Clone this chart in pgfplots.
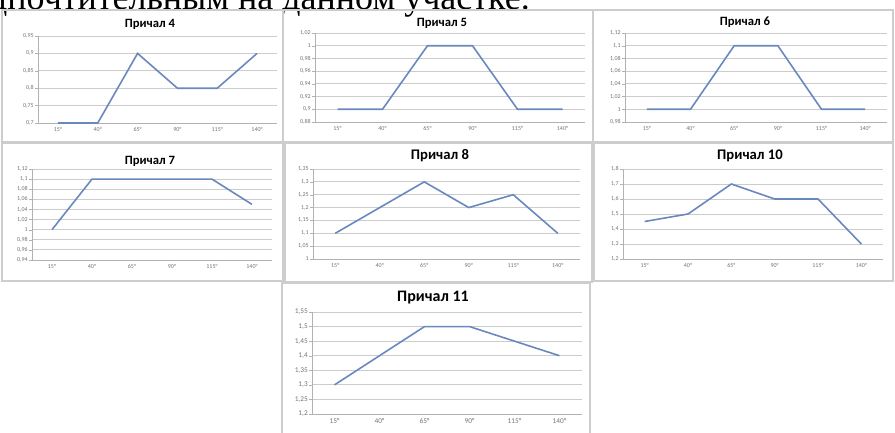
\documentclass[border=0pt]{standalone}
\usepackage{pgfplots}
\pgfplotsset{compat=1.18}
\usepackage{fontspec}
\setmainfont{Carlito}
\newfontfamily\serifru{Liberation Serif}
\definecolor{ln}{RGB}{105,137,190}
\definecolor{bx}{RGB}{205,205,205}
\definecolor{tk}{RGB}{115,115,115}
\pgfplotsset{
  ch/.style={
    scale only axis, anchor=south west,
    xmin=-0.5, xmax=5.5, xtick={0,...,5},
    xticklabels={15°,40°,65°,90°,115°,140°},
    axis x line*=bottom, axis y line*=left,
    axis line style={gray!60,-},
    ymajorgrids, grid style={gray!40, line width=0.6pt},
    tick style={gray!60}, xtick style={draw=none},
    tick align=outside, major tick length=2pt,
    ticklabel style={font=\fontsize{4.5}{5}\selectfont, text=tk, inner sep=1pt},
    /pgf/number format/use comma,
    /pgf/number format/assume math mode=true,
  },
  ser/.style={ln, line width=1.2pt, no marks},
}
\begin{document}
\begin{tikzpicture}
\useasboundingbox (0,0) rectangle ({895*0.75pt},{-432*0.75pt});
% cut-off text line at the top
\begin{scope}
\clip (0,0) rectangle ({895*0.75pt},{-432*0.75pt});
\node[anchor=base east, inner sep=0pt, font=\serifru\fontsize{27}{30}\selectfont] at ({530*0.75pt},{-9*0.75pt}) {предпочтительным на данном участке.};
\end{scope}
% boxes
\draw[bx, line width=0.8pt] ({2*0.75pt},{-10*0.75pt}) rectangle ({283*0.75pt},{-142*0.75pt});
\draw[bx, line width=0.8pt] ({283*0.75pt},{-10*0.75pt}) rectangle ({593*0.75pt},{-142*0.75pt});
\draw[bx, line width=1.6pt] ({593*0.75pt},{-10*0.75pt}) -- ({593*0.75pt},{-142*0.75pt});
\draw[bx, line width=0.8pt] ({593*0.75pt},{-10*0.75pt}) rectangle ({893*0.75pt},{-142*0.75pt});
\draw[bx, line width=0.8pt] ({2*0.75pt},{-143*0.75pt}) rectangle ({283*0.75pt},{-281*0.75pt});
\draw[bx, line width=0.8pt] ({285*0.75pt},{-143*0.75pt}) rectangle ({592*0.75pt},{-282*0.75pt});
\draw[bx, line width=0.8pt] ({594*0.75pt},{-143*0.75pt}) rectangle ({893*0.75pt},{-281*0.75pt});
\draw[bx, line width=0.8pt] ({282*0.75pt},{-283*0.75pt}) rectangle ({590*0.75pt},{-440*0.75pt});

% Причал 4
\node[font=\bfseries\fontsize{9.5}{10}\selectfont, inner sep=1pt] at ({150*0.75pt},{-24*0.75pt}) {Причал 4};
\begin{axis}[ch, at={({38*0.75pt},{-123*0.75pt})}, width={239*0.75pt}, height={87*0.75pt},
  ymin=0.7, ymax=0.95, ytick={0.7,0.75,0.8,0.85,0.9,0.95}]
\addplot[ser] coordinates {(0,0.7) (1,0.7) (2,0.9) (3,0.8) (4,0.8) (5,0.9)};
\end{axis}

% Причал 5
\node[font=\bfseries\fontsize{9.5}{10}\selectfont, inner sep=1pt] at ({442*0.75pt},{-23*0.75pt}) {Причал 5};
\begin{axis}[ch, at={({315*0.75pt},{-122*0.75pt})}, width={270*0.75pt}, height={89*0.75pt},
  ymin=0.88, ymax=1.02, ytick={0.88,0.9,0.92,0.94,0.96,0.98,1,1.02}]
\addplot[ser] coordinates {(0,0.9) (1,0.9) (2,1) (3,1) (4,0.9) (5,0.9)};
\end{axis}

% Причал 6
\node[font=\bfseries\fontsize{9.5}{10}\selectfont, inner sep=1pt] at ({745*0.75pt},{-22*0.75pt}) {Причал 6};
\begin{axis}[ch, at={({625*0.75pt},{-122*0.75pt})}, width={262*0.75pt}, height={89*0.75pt},
  ymin=0.98, ymax=1.12, ytick={0.98,1,1.02,1.04,1.06,1.08,1.1,1.12}]
\addplot[ser] coordinates {(0,1) (1,1) (2,1.1) (3,1.1) (4,1) (5,1)};
\end{axis}

% Причал 7
\node[font=\bfseries\fontsize{9.5}{10}\selectfont] at ({150*0.75pt},{-161*0.75pt}) {Причал 7};
\begin{axis}[ch, at={({32*0.75pt},{-260*0.75pt})}, width={240*0.75pt}, height={91*0.75pt},
  ymin=0.94, ymax=1.12, ytick={0.94,0.96,0.98,1,1.02,1.04,1.06,1.08,1.1,1.12}]
\addplot[ser] coordinates {(0,1) (1,1.1) (2,1.1) (3,1.1) (4,1.1) (5,1.05)};
\end{axis}

% Причал 8
\node[font=\bfseries\fontsize{11}{12}\selectfont] at ({440*0.75pt},{-156*0.75pt}) {Причал 8};
\begin{axis}[ch, at={({313*0.75pt},{-259*0.75pt})}, width={267*0.75pt}, height={90*0.75pt},
  ymin=1, ymax=1.35, ytick={1,1.05,1.1,1.15,1.2,1.25,1.3,1.35}]
\addplot[ser] coordinates {(0,1.1) (1,1.2) (2,1.3) (3,1.2) (4,1.25) (5,1.1)};
\end{axis}

% Причал 10
\node[font=\bfseries\fontsize{11}{12}\selectfont] at ({750*0.75pt},{-156*0.75pt}) {Причал 10};
\begin{axis}[ch, at={({623*0.75pt},{-259*0.75pt})}, width={260*0.75pt}, height={90*0.75pt},
  ymin=1.2, ymax=1.8, ytick={1.2,1.3,1.4,1.5,1.6,1.7,1.8}]
\addplot[ser] coordinates {(0,1.45) (1,1.5) (2,1.7) (3,1.6) (4,1.6) (5,1.3)};
\end{axis}

% Причал 11
\node[font=\bfseries\fontsize{12}{13}\selectfont] at ({433*0.75pt},{-298*0.75pt}) {Причал 11};
\begin{axis}[ch, at={({312*0.75pt},{-414*0.75pt})}, width={270*0.75pt}, height={102*0.75pt},
  ticklabel style={font=\fontsize{5.5}{6}\selectfont},
  ymin=1.2, ymax=1.55, ytick={1.2,1.25,1.3,1.35,1.4,1.45,1.5,1.55}]
\addplot[ser] coordinates {(0,1.3) (1,1.4) (2,1.5) (3,1.5) (4,1.45) (5,1.4)};
\end{axis}
\end{tikzpicture}
\end{document}
